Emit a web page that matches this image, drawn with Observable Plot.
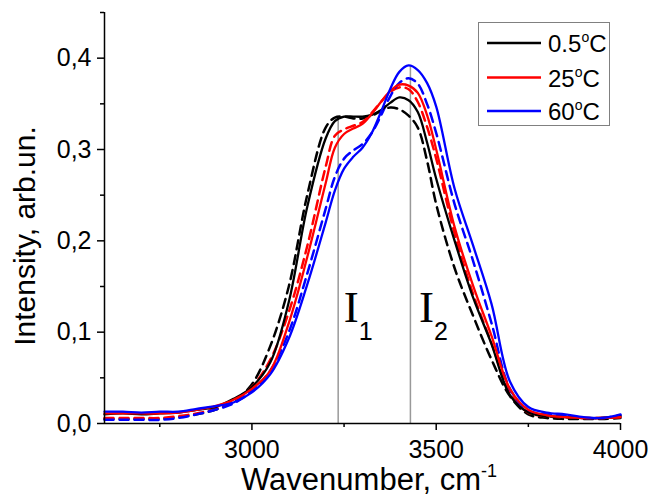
<!DOCTYPE html>
<html><head><meta charset="utf-8">
<script src="https://cdn.jsdelivr.net/npm/d3@7"></script>
<script src="https://cdn.jsdelivr.net/npm/@observablehq/plot@0.6"></script>
<style>
html,body{margin:0;padding:0;background:#fff;}
#chart{width:651px;height:497px;}
</style></head><body><div id="chart"></div>
<script>
const wavenumber = [2600,2650,2700,2750,2800,2850,2900,2950,3000,3050,3100,3150,3200,3225,3250,3275,3300,3325,3350,3375,3400,3425,3450,3475,3500,3550,3600,3650,3700,3750,3800,3850,3900,3950,4000];
// measured spectra (solid)
const t05 = [0.010,0.011,0.010,0.011,0.012,0.015,0.018,0.027,0.040,0.067,0.133,0.237,0.312,0.331,0.336,0.336,0.336,0.338,0.343,0.351,0.357,0.354,0.341,0.308,0.268,0.200,0.138,0.087,0.031,0.012,0.008,0.007,0.006,0.006,0.008];
const t25 = [0.011,0.011,0.011,0.011,0.012,0.015,0.019,0.026,0.038,0.058,0.110,0.182,0.263,0.302,0.317,0.323,0.328,0.339,0.352,0.364,0.371,0.370,0.362,0.338,0.300,0.215,0.151,0.096,0.038,0.015,0.009,0.007,0.006,0.006,0.007];
const t60 = [0.013,0.013,0.012,0.013,0.013,0.016,0.019,0.023,0.034,0.054,0.093,0.152,0.220,0.255,0.279,0.292,0.302,0.318,0.341,0.366,0.385,0.392,0.387,0.373,0.347,0.257,0.195,0.131,0.046,0.018,0.012,0.010,0.007,0.006,0.010];
// dashed spectra
const f05 = [0.005,0.005,0.005,0.005,0.007,0.010,0.015,0.024,0.043,0.085,0.150,0.250,0.324,0.335,0.336,0.334,0.334,0.337,0.342,0.346,0.344,0.337,0.324,0.288,0.240,0.170,0.118,0.070,0.030,0.010,0.006,0.005,0.005,0.005,0.006];
const f25 = [0.006,0.006,0.006,0.006,0.008,0.011,0.016,0.025,0.040,0.070,0.122,0.194,0.281,0.315,0.322,0.326,0.330,0.340,0.352,0.363,0.368,0.366,0.352,0.325,0.290,0.208,0.142,0.088,0.034,0.012,0.008,0.007,0.006,0.006,0.007];
const f60 = [0.004,0.004,0.004,0.004,0.006,0.010,0.015,0.022,0.036,0.058,0.100,0.164,0.235,0.270,0.290,0.299,0.306,0.318,0.337,0.358,0.373,0.378,0.372,0.350,0.318,0.240,0.178,0.110,0.038,0.014,0.010,0.008,0.006,0.006,0.009];

const seriesNames = ["0.5", "25", "60"];
const seriesColors = ["#000000", "#ff0000", "#0000ff"];
const yTicks = [0, 0.1, 0.2, 0.3, 0.4];
const yMinor = [0.05, 0.15, 0.25, 0.35, 0.45];
const xTicks = [3000, 3500, 4000];
const xMinor = [2750, 3250, 3750];
const bandPositions = [3234, 3430];
const bandHeights = [0.336, 0.392];
const bandLabels = ["1", "2"];

function rows(ys, name) { return wavenumber.map((w, i) => ({w, v: ys[i], name})); }
const solidRows = [...rows(t05, "0.5"), ...rows(t25, "25"), ...rows(t60, "60")];
const dashRows = [...rows(f05, "0.5"), ...rows(f25, "25"), ...rows(f60, "60")];
const bands = bandPositions.map((p, i) => ({x: p, y0: 0, y: bandHeights[i], label: bandLabels[i]}));

const FONT = "'Liberation Sans', Arial, sans-serif";

const plot = Plot.plot({
  width: 651, height: 497,
  marginLeft: 104, marginRight: 31, marginTop: 12, marginBottom: 74,
  style: {fontFamily: FONT, background: "white", color: "#000"},
  x: {domain: [2600, 4000]},
  y: {domain: [0, 0.45]},
  color: {domain: seriesNames, range: seriesColors},
  marks: [
    Plot.ruleX(bands, {x: "x", y1: "y0", y2: "y", stroke: "#999999", strokeWidth: 1.5}),
    Plot.line(dashRows, {x: "w", y: "v", z: "name", stroke: "name", strokeWidth: 2.5, strokeDasharray: "9,6", curve: "catmull-rom"}),
    Plot.line(solidRows, {x: "w", y: "v", z: "name", stroke: "name", strokeWidth: 2.3, curve: "catmull-rom"}),
    Plot.axisY({ticks: yTicks, tickSize: 7, tickPadding: 6, tickFormat: d => d.toFixed(1).replace(".", ","), fontSize: 25, label: null, strokeWidth: 1.5}),
    Plot.axisY({ticks: yMinor, tickSize: 4, tickFormat: () => "", label: null, strokeWidth: 1.5}),
    Plot.axisX({ticks: xTicks, tickSize: 7, tickPadding: 10, tickFormat: d => String(d), fontSize: 25, label: null, strokeWidth: 1.5}),
    Plot.axisX({ticks: xMinor, tickSize: 4, tickFormat: () => "", label: null, strokeWidth: 1.5}),
    Plot.ruleX([2600], {stroke: "#000", strokeWidth: 1.5}),
    Plot.ruleY([0], {stroke: "#000", strokeWidth: 1.5})
  ]
});

const svg = d3.select(plot);
svg.selectAll('g[aria-label*="tick label"] text')
  .style("font-size", "25px").style("font-family", FONT);
const xs = plot.scale("x");

// band labels I1, I2
bands.forEach((b, i) => {
  const px = xs.apply(b.x) + (i === 0 ? 6 : 9);
  const t = svg.append("text").attr("x", px).attr("y", 322).attr("text-anchor", "start")
    .attr("font-family", "'Liberation Serif', 'Times New Roman', serif").attr("font-size", 45).attr("fill", "#000");
  t.append("tspan").text("I");
  t.append("tspan").attr("font-family", FONT).attr("font-size", 25).attr("dy", 18).text(b.label);
});

// axis titles
const xt = svg.append("text").attr("x", 241).attr("y", 490).attr("text-anchor", "start")
  .attr("font-family", FONT).attr("font-size", 31).attr("fill", "#000");
xt.append("tspan").text("Wavenumber, cm");
xt.append("tspan").attr("font-size", 18).attr("dy", -13).text("-1");

svg.append("text").attr("transform", "translate(35,236) rotate(-90)").attr("text-anchor", "middle")
  .attr("font-family", FONT).attr("font-size", 30).attr("fill", "#000").text("Intensity, arb.un.");

// legend
const lg = svg.append("g").attr("text-anchor", "start");
lg.append("rect").attr("x", 478.5).attr("y", 22.5).attr("width", 131).attr("height", 103)
  .attr("fill", "white").attr("stroke", "#808080").attr("stroke-width", 1);
const legendY = [43, 77.5, 111];
seriesNames.forEach((n, i) => {
  lg.append("line").attr("x1", 487).attr("x2", 541).attr("y1", legendY[i]).attr("y2", legendY[i])
    .attr("stroke", seriesColors[i]).attr("stroke-width", 2.5);
  const t = lg.append("text").attr("x", 548).attr("y", legendY[i] + 9).attr("text-anchor", "start")
    .attr("font-family", FONT).attr("font-size", 24).attr("fill", "#000");
  t.append("tspan").text(n);
  t.append("tspan").attr("font-size", 14).attr("dy", -10).text("o");
  t.append("tspan").attr("dy", 10).text("C");
});

document.getElementById("chart").appendChild(plot);
</script>
</body></html>
